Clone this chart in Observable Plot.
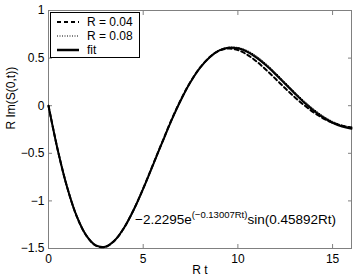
<!DOCTYPE html>
<html><head><meta charset="utf-8">
<script src="https://cdn.jsdelivr.net/npm/d3@7"></script>
<script src="https://cdn.jsdelivr.net/npm/@observablehq/plot@0.6"></script>
<style>
body{margin:0;background:#fff;font-family:"Liberation Sans",Arial,sans-serif;}
#wrap{position:relative;width:360px;height:279px;}
#legend{position:absolute;left:50px;top:12px;width:88px;height:44px;border:1px solid #000;background:#fff;font-size:12px;}
#legend .row{position:absolute;left:0;height:14px;}
#legend svg{position:absolute;left:6px;top:0;}
#legend span{position:absolute;left:36px;top:0;white-space:nowrap;line-height:14px;}
#ann{position:absolute;left:135px;top:212px;font-size:13.5px;white-space:nowrap;}
#ann sup{font-size:9.5px;vertical-align:6px;line-height:0;}
</style></head>
<body><div id="wrap"></div>
<script>
const tValues = [0,0.5,1,1.5,2,2.5,3,3.5,4,4.5,5,5.5,6,6.5,7,7.5,8,8.5,9,9.5,10,10.5,11,11.5,12,12.5,13,13.5,14,14.5,15,15.5,16];
const fitValues = [0,-0.475,-0.867,-1.166,-1.365,-1.468,-1.481,-1.413,-1.279,-1.093,-0.872,-0.631,-0.389,-0.151,0.063,0.248,0.397,0.507,0.578,0.608,0.603,0.566,0.503,0.422,0.328,0.228,0.129,0.034,-0.051,-0.123,-0.179,-0.219,-0.243];
const r004Values = [0,-0.475,-0.867,-1.166,-1.365,-1.470,-1.484,-1.415,-1.280,-1.092,-0.870,-0.628,-0.385,-0.146,0.068,0.252,0.400,0.508,0.578,0.600,0.585,0.535,0.463,0.375,0.280,0.183,0.090,0.005,-0.070,-0.132,-0.180,-0.210,-0.228];
const r008Values = [0,-0.475,-0.867,-1.166,-1.365,-1.468,-1.481,-1.413,-1.279,-1.094,-0.873,-0.633,-0.391,-0.153,0.061,0.247,0.397,0.509,0.582,0.614,0.611,0.578,0.518,0.438,0.345,0.245,0.145,0.050,-0.035,-0.108,-0.165,-0.205,-0.225];
const xTicks = [0,5,10,15];
const yTicks = [-1.5,-1,-0.5,0,0.5,1];
const seriesNames = ["R = 0.04","R = 0.08","fit"];

const mk = vals => tValues.map((t,i)=>({t, v: vals[i]}));
const minus = s => String(s).replace("-", "\u2212");

const plot = Plot.plot({
  width: 360, height: 279,
  marginLeft: 48, marginRight: 9, marginTop: 10, marginBottom: 31,
  style: {fontFamily: '"Liberation Sans", Arial, sans-serif', fontSize: "12px", color: "#000", background: "#fff"},
  x: {domain: [0,16]},
  y: {domain: [-1.5,1]},
  marks: [
    Plot.frame({stroke: "#808080"}),
    Plot.axisX(xTicks, {anchor: "bottom", tickSize: -4, tickPadding: 10, stroke: "#808080", fill: "#000", label: null, tickFormat: minus}),
    Plot.axisX(xTicks, {anchor: "top", tickSize: -4, stroke: "#808080", text: null, label: null}),
    Plot.axisY(yTicks, {anchor: "left", tickSize: -4, tickPadding: 8, stroke: "#808080", fill: "#000", label: null, tickFormat: minus}),
    Plot.axisY(yTicks, {anchor: "right", tickSize: -4, stroke: "#808080", text: null, label: null}),
    Plot.line(mk(r008Values), {x: "t", y: "v", stroke: "#000", strokeWidth: 1, strokeDasharray: "1,1.5", curve: "catmull-rom"}),
    Plot.line(mk(r004Values), {x: "t", y: "v", stroke: "#000", strokeWidth: 2, strokeDasharray: "4,3", curve: "catmull-rom"}),
    Plot.line(mk(fitValues), {x: "t", y: "v", stroke: "#000", strokeWidth: 2, curve: "catmull-rom"}),
    Plot.text(["R t"], {frameAnchor: "bottom", dy: 25, fontSize: 12}),
    Plot.text(["R Im(S(0,t))"], {frameAnchor: "left", dx: -37, rotate: -90, fontSize: 12})
  ]
});
const wrap = document.getElementById("wrap");
wrap.appendChild(plot);

const styles = [
  {w: 2, dash: "4,3"},
  {w: 1, dash: "1,1.5"},
  {w: 2.5, dash: null}
];
const lg = document.createElement("div");
lg.id = "legend";
seriesNames.forEach((name, i) => {
  const row = document.createElement("div");
  row.className = "row";
  row.style.top = (2 + i*14) + "px";
  const s = styles[i];
  row.innerHTML = `<svg width="24" height="14"><line x1="0" y1="7" x2="22" y2="7" stroke="#000" stroke-width="${s.w}" ${s.dash ? `stroke-dasharray="${s.dash}"` : ""}/></svg><span>${name}</span>`;
  lg.appendChild(row);
});
wrap.appendChild(lg);

const ann = document.createElement("div");
ann.id = "ann";
ann.innerHTML = "\u22122.2295e<sup>(\u22120.13007Rt)</sup>sin(0.45892Rt)";
wrap.appendChild(ann);
</script>
</body></html>
